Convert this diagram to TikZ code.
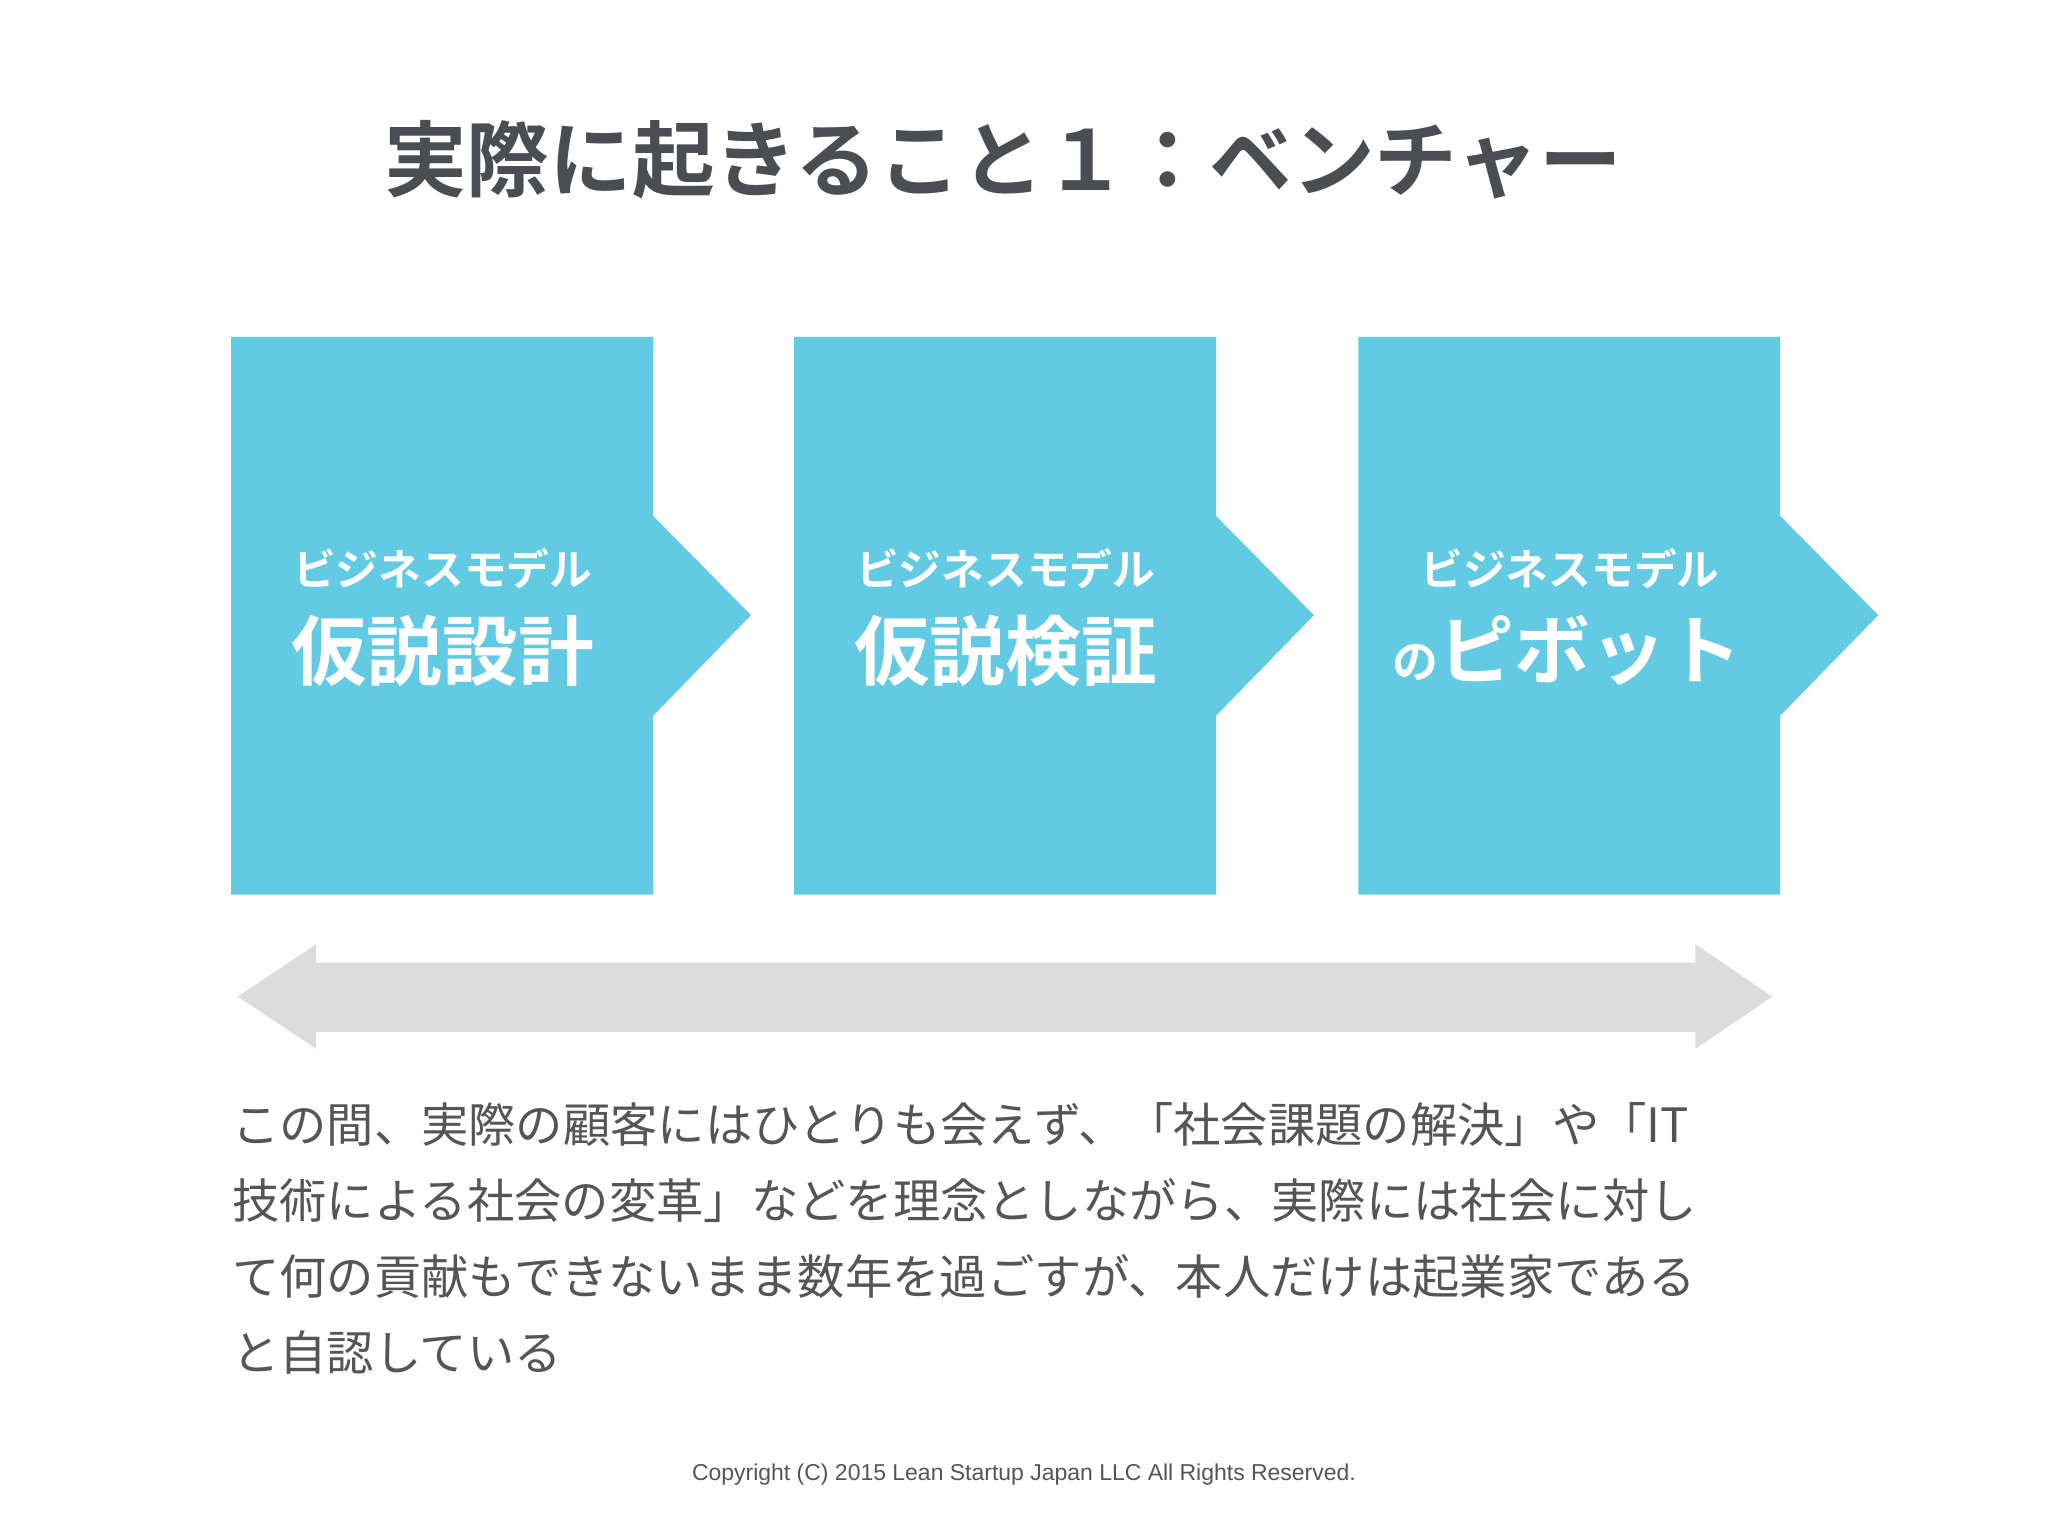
\documentclass[tikz,border=0pt]{standalone}
\usepackage{fontspec}
\newfontfamily\cjk{Noto Sans CJK JP}[BoldFont={Noto Sans CJK JP Bold}]
\setmainfont{Liberation Sans}
\definecolor{cyanbox}{HTML}{63CAE3}
\definecolor{titlegray}{HTML}{4A4D52}
\definecolor{bodygray}{HTML}{555555}
\definecolor{arrowgray}{HTML}{DCDCDC}
\begin{document}
\begin{tikzpicture}[x=0.01cm,y=-0.01cm,
  chev/.style={fill=cyanbox,draw=none},
  small/.style={text=white,font=\cjk\bfseries\fontsize{9.3}{11}\selectfont},
  big/.style={text=white,font=\cjk\bfseries\fontsize{16.5}{19}\selectfont}]
\useasboundingbox (0,0) rectangle (1568,1176);
\node[text=titlegray,font=\cjk\bfseries\fontsize{18}{22}\selectfont] (title) at (768,122) {実際に起きること１：ベンチャー};
\foreach \i/\x in {1/177,2/608,3/1040}{
  \fill[chev] (\x,258) -- (\x+323,258) -- (\x+323,395) -- (\x+398,471) -- (\x+323,548) -- (\x+323,685) -- (\x,685) -- cycle;
}
\node[small] (s1) at (339,435) {ビジネスモデル};
\node[big] (b1) at (339,498) {仮説設計};
\node[small] (s2) at (770,435) {ビジネスモデル};
\node[big] (b2) at (770,498) {仮説検証};
\node[small] (s3) at (1202,435) {ビジネスモデル};
\node[big] (b3) at (1200,498) {{\fontsize{10}{12}\selectfont の}ピボット};
\fill[arrowgray] (182,763) -- (242,723) -- (242,737) -- (1298,737) -- (1298,723) -- (1357,763) -- (1298,803) -- (1298,790) -- (242,790) -- (242,803) -- cycle;
\node[anchor=north west,align=left,text=bodygray,font=\cjk\fontsize{10.3}{16.6}\selectfont,inner sep=0] (body) at (177,843) {この間、実際の顧客にはひとりも会えず、「社会課題の解決」や「IT\\技術による社会の変革」などを理念としながら、実際には社会に対し\\て何の貢献もできないまま数年を過ごすが、本人だけは起業家である\\と自認している};
\node[text=bodygray,font=\fontsize{5}{6}\selectfont] (copy) at (784,1129) {Copyright (C) 2015 Lean Startup Japan LLC All Rights Reserved.};
\end{tikzpicture}
\end{document}
